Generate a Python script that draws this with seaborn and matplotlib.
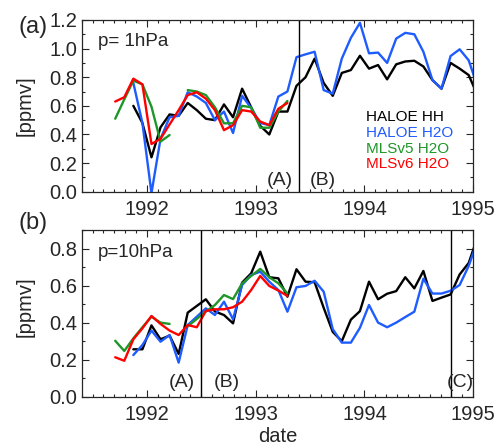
import numpy as np
import pandas as pd
import matplotlib
matplotlib.use('Agg')
import matplotlib.pyplot as plt
from matplotlib.ticker import MultipleLocator, FormatStrFormatter, FixedLocator
import seaborn as sns

# monthly means, Sep 1991 .. Jan 1995
months = pd.period_range('1991-09', '1995-01', freq='M')
dates = np.array([p.year + (p.month - 0.5) / 12 for p in months])

names = ['HALOE HH', 'HALOE H2O', 'MLSv5 H2O', 'MLSv6 H2O']
colors = ['#000000', '#1f5cff', '#1e9628', '#ff0000']

# p = 1 hPa
hh_1 = [None, None, 0.60, 0.48, 0.24, 0.45, 0.54, 0.53, 0.62, 0.57, 0.51, 0.50,
        0.61, 0.52, 0.72, 0.59, 0.46, 0.40, 0.56, 0.56, 0.74, 0.80, 0.93, 0.76,
        0.67, 0.83, 0.85, 0.95, 0.86, 0.885, 0.785, 0.89, 0.91, 0.915, 0.875, 0.78,
        0.72, 0.90, 0.86, 0.815, 0.67]
h2o_1 = [None, None, 0.76, 0.48, -0.01, 0.37, 0.52, 0.53, 0.695, 0.665, 0.62, 0.50,
         0.56, 0.41, 0.67, 0.585, 0.48, 0.465, 0.665, 0.70, 0.94, 0.96, 0.978, 0.71,
         0.685, 0.93, 1.075, 1.18, 0.967, 0.972, 0.90, 1.07, 1.11, 1.10, 0.978, 0.78,
         0.72, 0.948, 0.995, 0.918, 0.73]
v5_1 = [0.51, 0.645, 0.776, 0.75, 0.594, 0.35, 0.396, None, 0.71, 0.70, 0.675, 0.59,
        0.478, 0.478, 0.60, 0.59, 0.447, 0.447, 0.56, 0.634] + [None] * 21
v6_1 = [0.63, 0.66, 0.79, 0.75, 0.333, 0.37, 0.47, 0.57, 0.675, 0.695, 0.65, 0.57,
        0.43, 0.465, 0.57, 0.56, 0.49, 0.465, 0.58, 0.62] + [None] * 21

# p = 10 hPa
hh_10 = [None, None, 0.256, 0.256, 0.385, 0.31, 0.33, 0.231, 0.454, 0.49, 0.526, 0.46,
         0.441, 0.396, 0.616, 0.666, 0.783, 0.645, 0.639, 0.54, 0.688, 0.621, 0.618, 0.48,
         0.35, 0.30, 0.416, 0.462, 0.621, 0.526, 0.556, 0.57, 0.645, 0.585, 0.679, 0.517,
         0.535, 0.552, 0.66, 0.722, 0.865]
h2o_10 = [None, None, 0.225, 0.279, 0.357, 0.297, 0.333, 0.184, 0.387, 0.432, 0.477, 0.441,
          0.513, 0.418, 0.603, 0.657, 0.675, 0.621, 0.576, 0.459, 0.591, 0.598, 0.626, 0.567,
          0.365, 0.292, 0.292, 0.372, 0.495, 0.40, 0.375, 0.40, 0.43, 0.459, 0.637, 0.557,
          0.557, 0.572, 0.603, 0.706, 0.845]
v5_10 = [0.302, 0.247, 0.315, 0.375, 0.432, 0.40, 0.393, None, 0.38, 0.42, 0.46, 0.495,
         0.549, 0.527, 0.612, 0.652, 0.69, 0.645, 0.612, 0.558] + [None] * 21
v6_10 = [0.213, 0.194, 0.31, 0.369, 0.436, 0.393, 0.357, 0.333, 0.387, 0.375, 0.463, 0.472,
         0.472, 0.483, 0.513, 0.576, 0.652, 0.598, 0.573, 0.544] + [None] * 21

# event lines: (A)/(B) boundary etc.
vlines_1 = [1993.4]
vlines_10 = [1992.5, 1994.8]


def to_long(series):
    rows = []
    for name, vals in zip(names, series):
        seg = 0
        inside = False
        for t, v in zip(dates, vals):
            if v is None:
                inside = False
                continue
            if not inside:
                seg += 1
                inside = True
            rows.append({'date': t, 'ppmv': v, 'series': name, 'seg': seg})
    return pd.DataFrame(rows)


sns.set_style('ticks')
plt.rcParams['font.family'] = ['Liberation Sans', 'DejaVu Sans']
plt.rcParams['axes.linewidth'] = 0.9

fig = plt.figure(figsize=(5.02, 4.46), dpi=100)
ax1 = fig.add_axes([0.1627, 0.5702, 0.780, 0.385])
ax2 = fig.add_axes([0.1627, 0.1105, 0.780, 0.3738])

for ax, series, vl in [(ax1, [hh_1, h2o_1, v5_1, v6_1], vlines_1),
                       (ax2, [hh_10, h2o_10, v5_10, v6_10], vlines_10)]:
    df = to_long(series)
    sns.lineplot(data=df, x='date', y='ppmv', hue='series', units='seg',
                 estimator=None, sort=False, hue_order=names, palette=colors,
                 linewidth=1.7, legend=False, ax=ax)
    for x in vl:
        ax.axvline(x, color='black', lw=1.0)
    ax.set_xlim(1991.4, 1995.0)
    ax.xaxis.set_major_locator(FixedLocator([1992, 1993, 1994, 1995]))
    ax.xaxis.set_major_formatter(FormatStrFormatter('%d'))
    ax.xaxis.set_minor_locator(MultipleLocator(0.1))
    ax.yaxis.set_major_locator(MultipleLocator(0.2))
    ax.yaxis.set_minor_locator(MultipleLocator(0.1))
    ax.yaxis.set_major_formatter(FormatStrFormatter('%.1f'))
    ax.tick_params(which='both', direction='in', top=True, right=True,
                   labelsize=14.5, width=0.8)
    ax.tick_params(which='major', length=5)
    ax.tick_params(which='minor', length=2.5)
    ax.tick_params(axis='x', pad=6)
    ax.tick_params(axis='y', pad=3)
    ax.set_xlabel('')
    ax.set_ylabel('[ppmv]', fontsize=14.5)

ax1.set_ylim(0, 1.2)
ax2.set_ylim(0, 0.9)
ax1.yaxis.set_label_coords(-0.119, 0.5)
ax2.yaxis.set_label_coords(-0.119, 0.54)

# panel annotations
ax1.text(0.042, 0.872, 'p= 1hPa', transform=ax1.transAxes, fontsize=13.5, va='center')
ax2.text(0.042, 0.868, 'p=10hPa', transform=ax2.transAxes, fontsize=13.5, va='center')
for ax, labels in [(ax1, [('(A)', 0.506), ('(B)', 0.616)]),
                   (ax2, [('(A)', 0.257), ('(B)', 0.370), ('(C)', 0.966)])]:
    yy = 0.068 if ax is ax1 else 0.088
    for s, xx in labels:
        ax.text(xx, yy, s, transform=ax.transAxes, fontsize=14, ha='center', va='center')

for name, col, yy in zip(names, colors, [0.435, 0.342, 0.249, 0.161]):
    ax1.text(0.726, yy, name, color=col, transform=ax1.transAxes, fontsize=11, va='center')

fig.text(0.036, 1 - 27 / 446, '(a)', fontsize=17, va='center')
fig.text(0.036, 1 - 223 / 446, '(b)', fontsize=17, va='center')
fig.text(277.5 / 502, 1 - 436 / 446, 'date', fontsize=14.5, ha='center', va='center')

fig.savefig('out.png', dpi=100)
